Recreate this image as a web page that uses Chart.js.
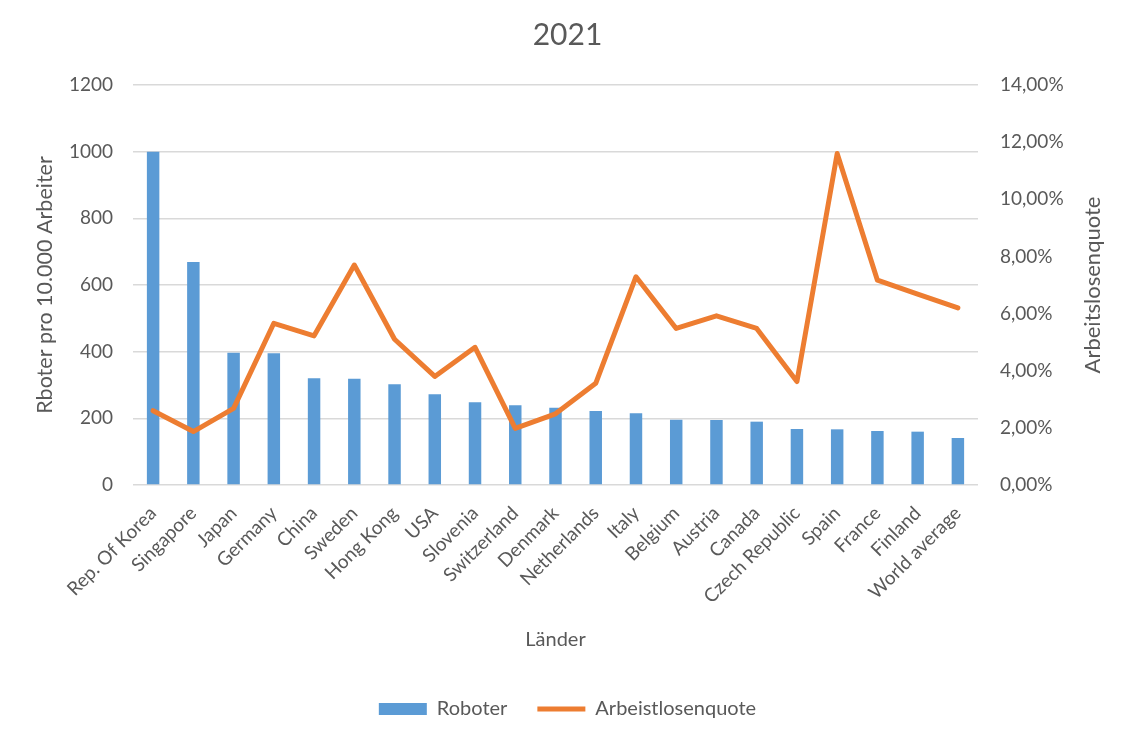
<!DOCTYPE html>
<html>
<head>
<meta charset="utf-8">
<script src="https://cdn.jsdelivr.net/npm/chart.js@4/dist/chart.umd.min.js"></script>
<style>
  html, body { margin: 0; padding: 0; background: #fff; }
  #wrap { width: 1135px; height: 737px; }
</style>
</head>
<body>
<div id="wrap"><canvas id="robotChart"></canvas></div>
<script>
const countries = ['Rep. Of Korea', 'Singapore', 'Japan', 'Germany', 'China', 'Sweden', 'Hong Kong', 'USA',
    'Slovenia', 'Switzerland', 'Denmark', 'Netherlands', 'Italy', 'Belgium', 'Austria', 'Canada',
    'Czech Republic', 'Spain', 'France', 'Finland', 'World average'];
const robots = [1000, 669, 397, 395, 320, 319, 302, 272, 248, 239, 232, 222, 215, 196, 195, 190,
    168, 167, 162, 160, 141];
const unemployment = [2.6, 1.87, 2.68, 5.66, 5.22, 7.7, 5.1, 3.8, 4.82, 1.98, 2.49, 3.56, 7.29, 5.48,
    5.92, 5.48, 3.62, 11.6, 7.17, 6.68, 6.2];
const leftTicks = [0, 200, 400, 600, 800, 1000, 1200];
const rightTicks = [0, 2, 4, 6, 8, 10, 12, 14];

const textColor = '#595959';
const fontFamily = 'Lato, "Open Sans", sans-serif';

// Excel draws the right title bottom-to-top, Chart.js does it the other way round
const rightTitle = {
    id: 'rightTitle',
    afterDraw(chart) {
        const ctx = chart.ctx;
        const area = chart.chartArea;
        ctx.save();
        ctx.translate(1093, (area.top + area.bottom) / 2);
        ctx.rotate(-Math.PI / 2);
        ctx.font = '22px ' + fontFamily;
        ctx.fillStyle = textColor;
        ctx.textAlign = 'center';
        ctx.textBaseline = 'middle';
        ctx.fillText('Arbeitslosenquote', 0, 0);
        ctx.restore();
    }
};

const ctx = document.getElementById('robotChart').getContext('2d');
const robotChart = new Chart(ctx, {
    type: 'bar',
    data: {
        labels: countries,
        datasets: [{
            type: 'bar',
            label: 'Roboter',
            data: robots,
            backgroundColor: '#5B9BD5',
            borderWidth: 0,
            categoryPercentage: 1,
            barPercentage: 0.31,
            pointStyle: 'rect',
            yAxisID: 'y',
            order: 2
        }, {
            type: 'line',
            label: 'Arbeistlosenquote',
            data: unemployment,
            borderColor: '#ED7D31',
            backgroundColor: '#ED7D31',
            borderWidth: 5,
            borderCapStyle: 'round',
            borderJoinStyle: 'round',
            pointRadius: 0,
            pointHoverRadius: 0,
            pointStyle: 'line',
            tension: 0,
            yAxisID: 'y1',
            order: 1
        }]
    },
    options: {
        responsive: true,
        maintainAspectRatio: false,
        animation: false,
        layout: {
            padding: { left: 0, right: 0, top: 0, bottom: 8 }
        },
        scales: {
            x: {
                grid: { display: false },
                border: { display: false },
                ticks: {
                    color: textColor,
                    font: { family: fontFamily, size: 19 },
                    minRotation: 45,
                    maxRotation: 45,
                    autoSkip: false,
                    padding: 9
                },
                title: {
                    display: true,
                    text: 'Länder',
                    color: textColor,
                    font: { family: fontFamily, size: 20 },
                    padding: { top: 4, bottom: 17 }
                },
                afterFit(scale) { scale.height = 184; }
            },
            y: {
                position: 'left',
                min: 0,
                max: 1200,
                afterBuildTicks(scale) { scale.ticks = leftTicks.map(v => ({ value: v })); },
                grid: { color: '#D9D9D9', lineWidth: 1.5, drawTicks: false },
                border: { display: false },
                ticks: {
                    color: textColor,
                    font: { family: fontFamily, size: 19 },
                    padding: 20,
                    callback: v => String(v)
                },
                title: {
                    display: true,
                    text: 'Rboter pro 10.000 Arbeiter',
                    color: textColor,
                    font: { family: fontFamily, size: 21.5 },
                    padding: { top: 32, bottom: 0 }
                },
                afterFit(scale) { scale.width = 133; }
            },
            y1: {
                position: 'right',
                min: 0,
                max: 14,
                afterBuildTicks(scale) { scale.ticks = rightTicks.map(v => ({ value: v })); },
                grid: { display: false, drawTicks: false },
                border: { display: false },
                ticks: {
                    color: textColor,
                    font: { family: fontFamily, size: 19 },
                    padding: 22,
                    callback: v => v.toFixed(2).replace('.', ',') + '%'
                },
                afterFit(scale) { scale.width = 157; }
            }
        },
        plugins: {
            title: {
                display: true,
                text: '2021',
                color: textColor,
                font: { family: fontFamily, size: 30, weight: 'normal' },
                padding: { top: 17, bottom: 32 }
            },
            legend: {
                position: 'bottom',
                labels: {
                    usePointStyle: true,
                    pointStyleWidth: 48,
                    boxHeight: 12,
                    color: textColor,
                    font: { family: fontFamily, size: 20 },
                    padding: 30,
                    sort: (a, b) => a.datasetIndex - b.datasetIndex
                }
            },
            tooltip: { enabled: false }
        }
    },
    plugins: [rightTitle]
});
</script>
</body>
</html>
